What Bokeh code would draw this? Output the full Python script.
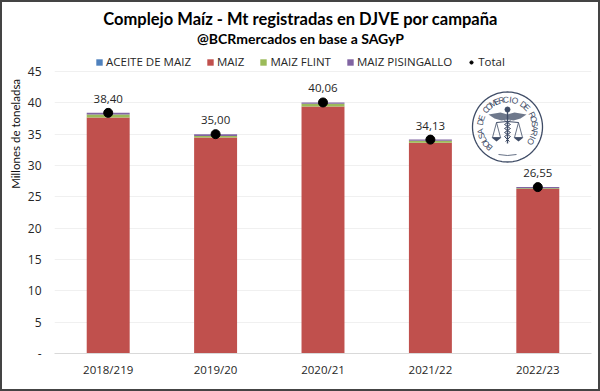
import math
from bokeh.plotting import figure
from bokeh.models import Range1d, Legend, LegendItem
from bokeh.core.properties import value
from bokeh.embed import file_html
from bokeh.resources import INLINE

campaigns = ["2018/219", "2019/20", "2020/21", "2021/22", "2022/23"]
aceite = [0.03, 0.03, 0.03, 0.03, 0.03]
maiz = [37.62, 34.44, 39.37, 33.60, 26.22]
flint = [0.50, 0.23, 0.46, 0.30, 0.10]
pisingallo = [0.25, 0.30, 0.20, 0.20, 0.20]
total = [38.40, 35.00, 40.06, 34.13, 26.55]
total_labels = ["38,40", "35,00", "40,06", "34,13", "26,55"]
y_ticks = [0, 5, 10, 15, 20, 25, 30, 35, 40, 45]
title = "Complejo Maíz - Mt registradas en DJVE por campaña"
subtitle = "@BCRmercados en base a SAGyP"
y_title = "Millones de toneladsa"

FONT = "Open Sans"
INK = "#262626"
xpos = [i + 0.5 for i in range(len(campaigns))]
# The frame reaches the top of the card so that titles and legend can live inside it;
# 282 px per 45 million tonnes keeps 45 at the reference's height.
p = figure(x_range=Range1d(0, len(campaigns)), y_range=Range1d(0, 351 / (282 / 45)), width=600, height=391,
           output_backend="svg", toolbar_location=None, tools="",
           min_border_left=52, min_border_right=11, min_border_top=0, min_border_bottom=40)
p.styles = {"position": "absolute", "left": "0", "top": "0", "border": "2px solid #444444"}
p.outline_line_color = None
p.background_fill_color = "white"
# helper ranges expressed in reference pixels
p.extra_x_ranges = {"px": Range1d(54, 591)}
p.extra_y_ranges = {"px": Range1d(353, 2)}

p.xgrid.visible = False
p.ygrid.grid_line_color = "#f0f0f0"
p.ygrid.ticker = y_ticks
p.yaxis.ticker = y_ticks
p.yaxis.major_label_overrides = {0: "-"}
p.yaxis.axis_line_color = None
p.yaxis.major_tick_line_color = None
p.yaxis.minor_tick_line_color = None
p.yaxis.major_tick_out = 0
p.yaxis.major_tick_in = 0
p.yaxis.major_label_text_font = FONT
p.yaxis.major_label_text_font_size = "12px"
p.yaxis.major_label_text_color = INK
p.yaxis.major_label_standoff = 13
# the axis title sits high on the reference: leading no-break spaces shift it up the frame
p.yaxis.axis_label = "\u00a0" * 30 + y_title
p.yaxis.axis_label_standoff = 3
p.yaxis.axis_label_text_font = "Lato"
p.yaxis.axis_label_text_font_size = "11.5px"
p.yaxis.axis_label_text_font_style = "normal"
p.yaxis.axis_label_text_color = "#111111"

p.xaxis.ticker = xpos
p.xaxis.major_label_overrides = dict(zip(xpos, campaigns))
p.xaxis.axis_line_color = "#d9d9d9"
p.xaxis.major_tick_line_color = None
p.xaxis.minor_tick_line_color = None
p.xaxis.major_tick_out = 0
p.xaxis.major_tick_in = 0
p.xaxis.major_label_text_font = FONT
p.xaxis.major_label_text_font_size = "11.5px"
p.xaxis.major_label_text_color = INK
p.xaxis.major_label_standoff = 8

data = dict(x=xpos, aceite=aceite, maiz=maiz, flint=flint, pisingallo=pisingallo,
            total=total, lab=total_labels)
names = ["aceite", "maiz", "flint", "pisingallo"]
cols = ["#4F81BD", "#C0504D", "#9BBB59", "#8064A2"]
bars = p.vbar_stack(names, x="x", width=0.4, color=cols, line_color=None, source=data)
by_name = dict(zip(names, bars))
dots = p.scatter("x", "total", size=9, color="black", source=data)
p.text("x", "total", text="lab", source=data, text_font=value(FONT), text_font_size="11.5px",
       text_color=INK, text_align="center", text_baseline="middle", y_offset=-14)

legend = Legend(items=[
    LegendItem(label="ACEITE DE MAIZ", renderers=[by_name["aceite"]]),
    LegendItem(label="MAIZ", renderers=[by_name["maiz"]]),
    LegendItem(label="MAIZ FLINT", renderers=[by_name["flint"]]),
    LegendItem(label="MAIZ PISINGALLO", renderers=[by_name["pisingallo"]]),
    LegendItem(label="Total", renderers=[dots]),
], orientation="horizontal", location=(41, 284), background_fill_alpha=0, border_line_color=None,
    glyph_width=8, glyph_height=8, label_standoff=3, spacing=15, padding=0, margin=0,
    label_text_font=FONT, label_text_font_size="11.5px", label_text_color=INK)
p.add_layout(legend, "center")

kw = dict(x_range_name="px", y_range_name="px")
p.text([300], [18], text=[title], text_font=value("Lato"), text_font_style="bold",
       text_font_size="16.5px", text_color="black", text_align="center", text_baseline="middle", **kw)
p.text([300], [38], text=[subtitle], text_font=value("Lato"), text_font_style="bold",
       text_font_size="14px", text_color="black", text_align="center", text_baseline="middle", **kw)

# Seal of the Bolsa de Comercio de Rosario, in reference pixels
LOGO = "#3f4c66"
cx, cy, R = 507, 126.5, 35
th = [2 * math.pi * i / 120 for i in range(121)]
p.line([cx + R * math.cos(t) for t in th], [cy + R * math.sin(t) for t in th],
       line_color=LOGO, line_width=1.3, **kw)
seal = "BOLSA DE COMERCIO DE ROSARIO"
a0, a1 = math.radians(228), math.radians(-32)
angs = [a0 + (a1 - a0) * i / (len(seal) - 1) for i in range(len(seal))]
p.text([cx + 27.5 * math.cos(a) for a in angs], [cy - 27.5 * math.sin(a) for a in angs],
       text=list(seal), angle=[a - math.pi / 2 for a in angs],
       text_font=value("Liberation Sans"), text_font_size="8.5px", text_color=LOGO,
       text_align="center", text_baseline="middle", **kw)
for s in (-1, 1):
    # wings
    p.patch([cx, cx + s * 7, cx + s * 19, cx + s * 13, cx + s * 6, cx],
            [114, 112, 114, 118, 120, 119], fill_color=LOGO, fill_alpha=0.75, line_color=None, **kw)
    # scale beam, strings and pans
    p.line([cx, cx + s * 11], [121, 122], line_color=LOGO, line_width=1, **kw)
    p.line([cx + s * 11, cx + s * 7, cx + s * 15, cx + s * 11], [122, 137, 137, 122], line_color=LOGO, line_width=0.8, **kw)
    p.patch([cx + s * 6, cx + s * 16, cx + s * 11], [137, 137, 141], fill_color=LOGO, line_color=None, **kw)
# staff and serpents
p.line([cx, cx], [108, 143], line_color=LOGO, line_width=1.4, **kw)
p.scatter([cx], [109], size=5, color=LOGO, **kw)
p.line([cx - 3, cx + 3, cx - 3, cx + 3, cx - 3, cx + 2], [120, 124, 128, 132, 136, 141], line_color=LOGO, line_width=1, **kw)
p.line([cx + 3, cx - 3, cx + 3, cx - 3, cx + 3, cx - 2], [120, 124, 128, 132, 136, 141], line_color=LOGO, line_width=1, **kw)
p.line([cx - 9, cx, cx + 9], [154, 155, 154], line_color=LOGO, line_width=0.8, **kw)

open("out.html", "w").write(file_html(p, INLINE))
